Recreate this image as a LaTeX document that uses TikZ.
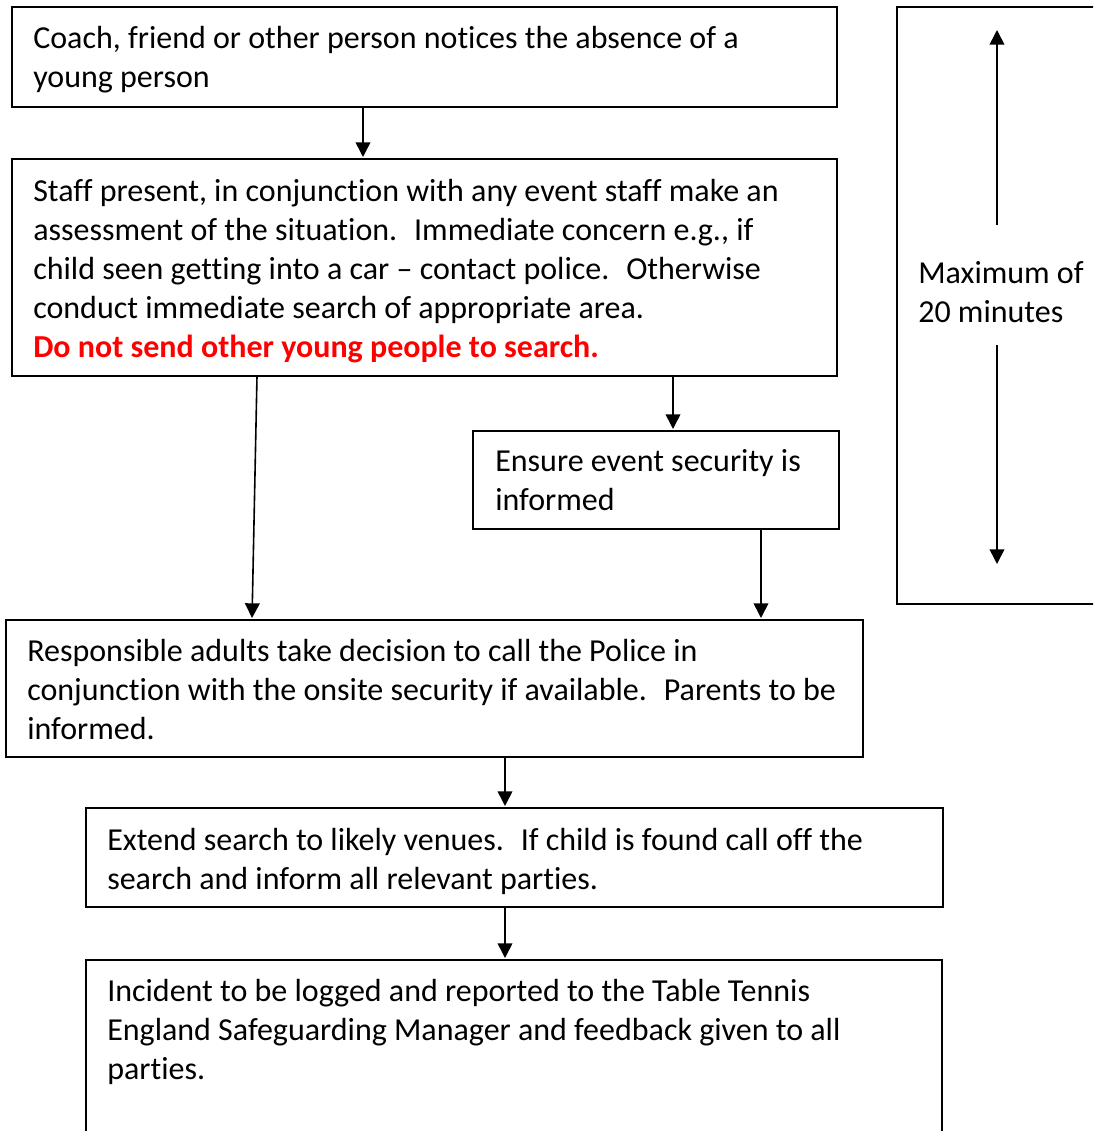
\documentclass[tikz,border=0pt]{standalone}
\usepackage{fontspec}
\setmainfont[Ligatures={NoCommon,NoContextual}]{Carlito}
\usetikzlibrary{arrows.meta}
\begin{document}
\begin{tikzpicture}[x=0.75pt,y=-0.75pt,
  rbox/.style 2 args={draw, line width=1.3pt, inner sep=0pt, outer sep=0pt, anchor=north west,
    minimum width=#1*0.75pt, minimum height=#2*0.75pt},
  txt/.style={anchor=base west, align=left, inner sep=0pt, font=\fontsize{24}{29.25}\selectfont},
  arr/.style={line width=1.2pt, shorten >=1.5pt, -{Triangle[length=11pt,width=11pt]}}]
\useasboundingbox (0,0) rectangle (1093,1131);
\clip (0,0) rectangle (1093,1131);
\fill[white] (0,0) rectangle (1093,1131);
% boxes
\node[rbox={825}{100}] (b1) at (12,7) {};
\node[rbox={825}{217}] (b2) at (12,159) {};
\node[rbox={366}{98}] (b3) at (473,431) {};
\node[rbox={857}{137}] (b4) at (6,620) {};
\node[rbox={857}{99}] (b5) at (86,808) {};
\node[rbox={856}{220}] (b6) at (86,960) {};
\node[rbox={260}{597}] (br) at (897,7) {};
% texts (anchor = baseline of last line)
\node[txt] (t1) at (33,88) {Coach, friend or other person notices the absence of a\\young person};
\node[txt] (t2) at (33,357) {Staff present, in conjunction with any event staff make an\\assessment of the situation. \ Immediate concern e.g., if\\child seen getting into a car -- contact police. \ Otherwise\\conduct immediate search of appropriate area.\\{\color{red}\bfseries Do not send other young people to search.}};
\node[txt] (t3) at (495,510) {Ensure event security is\\informed};
\node[txt] (t4) at (27,739) {Responsible adults take decision to call the Police in\\conjunction with the onsite security if available. \ Parents to be\\informed.};
\node[txt] (t5) at (107,889) {Extend search to likely venues. \ If child is found call off the\\search and inform all relevant parties.};
\node[txt] (t6) at (107,1079) {Incident to be logged and reported to the Table Tennis\\England Safeguarding Manager and feedback given to all\\parties.};
\node[txt] (tr) at (918,322) {Maximum of\\20 minutes};
% time arrows
\coordinate (ua) at (997,225);
\coordinate (ub) at (997,28);
\coordinate (da) at (997,345);
\coordinate (db) at (997,566);
\draw[arr] (ua) -- (ub);
\draw[arr] (da) -- (db);
% connectors
\draw[arr] (b1.south -| 363,0) -- (b2.north -| 363,0);
\draw[arr] (b2.south -| 673,0) -- (b3.north -| 673,0);
\draw[arr] (b2.south -| 257,0) -- (b4.north -| 252,0);
\draw[arr] (b3.south -| 761,0) -- (b4.north -| 761,0);
\draw[arr] (b4.south -| 505,0) -- (b5.north -| 505,0);
\draw[arr] (b5.south -| 505,0) -- (b6.north -| 505,0);
\end{tikzpicture}
\end{document}
